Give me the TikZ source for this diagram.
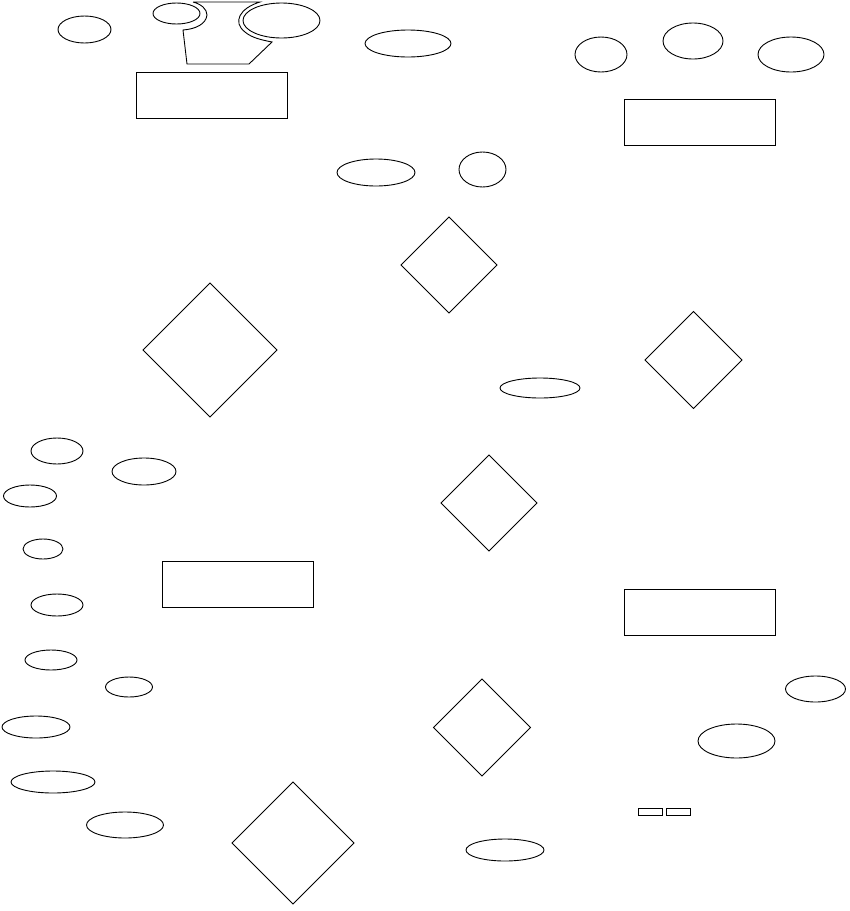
\documentclass[tikz,border=0pt]{standalone}
\usetikzlibrary{shapes.geometric}
\tikzset{
  ell/.style n args={2}{draw, ellipse, inner sep=0pt, outer sep=0pt, minimum width=#1pt, minimum height=#2pt},
  dia/.style={draw, diamond, inner sep=0pt, outer sep=0pt, minimum width=#1pt, minimum height=#1pt},
  box/.style={draw, rectangle, inner sep=0pt, outer sep=0pt, minimum width=151pt, minimum height=46pt},
  smallbox/.style={draw, rectangle, inner sep=0pt, outer sep=0pt, minimum width=24pt, minimum height=7pt},
  every path/.style={line width=0.9pt}
}
\begin{document}
\begin{tikzpicture}[x=1pt,y=-1pt]
\useasboundingbox (0,0) rectangle (850,911);
% top left
\node[ell={53}{27}] (e1) at (84.5,29.5) {};
\node[ell={47}{21}] (e2) at (176.5,13.5) {};
\node[ell={77}{35}] (e3) at (281.5,20.5) {};
\draw (193,2) -- (260,2)
  .. controls (240,8) and (232,22) .. (245,32)
  .. controls (252,38) and (262,40) .. (272,42)
  -- (249,64) -- (187,64) -- (183,30)
  .. controls (196,29) and (206,24) .. (207,15)
  .. controls (207,9) and (201,4) .. (193,2);
\node[box] (r1) at (211.5,95) {};
\node[ell={86}{27}] (e4) at (408,43.5) {};
% top right
\node[ell={52}{35}] (e5) at (601,54.5) {};
\node[ell={60}{36}] (e6) at (693,41) {};
\node[ell={66}{35}] (e7) at (791,54.5) {};
\node[box] (r2) at (699.5,122.5) {};
% middle
\node[ell={78}{27}] (e8) at (376,172.5) {};
\node[ell={47}{35}] (e9) at (482.5,169.5) {};
\node[dia=96] (d1) at (449,265) {};
\node[dia=134] (d2) at (210,350) {};
\node[dia=97] (d3) at (693.5,360) {};
\node[ell={80}{20}] (e10) at (540,388) {};
\node[dia=96] (d4) at (489,503) {};
% left column
\node[ell={52}{26}] (e11) at (57,451) {};
\node[ell={64}{27}] (e12) at (144,471.5) {};
\node[ell={53}{22}] (e13) at (30,496) {};
\node[ell={40}{20}] (e14) at (43,549) {};
\node[box] (r3) at (237.5,584.5) {};
\node[ell={52}{22}] (e15) at (57,605) {};
\node[ell={52}{20}] (e16) at (51,660) {};
\node[ell={47}{20}] (e17) at (129,687) {};
\node[ell={68}{22}] (e18) at (36,727) {};
\node[ell={84}{22}] (e19) at (53,782) {};
\node[ell={77}{26}] (e20) at (125,825) {};
% bottom middle
\node[dia=122] (d5) at (293,843) {};
\node[dia=97] (d6) at (482,727.5) {};
\node[ell={78}{22}] (e21) at (505,850) {};
% right
\node[box] (r4) at (699.5,612) {};
\node[ell={60}{26}] (e22) at (815.5,689) {};
\node[ell={77}{34}] (e23) at (736.5,741) {};
\node[smallbox] (s1) at (650,811.5) {};
\node[smallbox] (s2) at (678.5,811.5) {};
\end{tikzpicture}
\end{document}
